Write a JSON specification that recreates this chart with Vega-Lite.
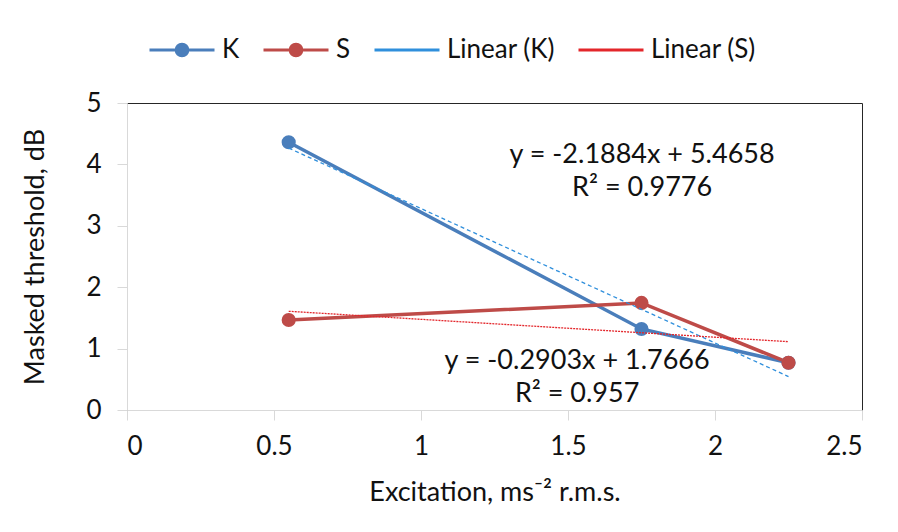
{
  "$schema": "https://vega.github.io/schema/vega-lite/v6.json",
  "autosize": {"type": "none"},
  "width": 735,
  "height": 307,
  "padding": {"left": 127, "top": 103, "right": 36, "bottom": 122},
  "background": "white",
  "config": {
    "font": "Lato",
    "view": {"stroke": "#262626", "strokeWidth": 1},
    "axis": {
      "grid": false,
      "domainColor": "#d9d9d9",
      "tickColor": "#d9d9d9",
      "tickSize": 10,
      "labelFontSize": 26,
      "labelColor": "#111",
      "titleFontWeight": "normal",
      "titleColor": "#111",
      "labelFont": "Lato",
      "titleFont": "Lato"
    }
  },
  "data": {
    "values": [
      {"series": "K", "excitation": 0.55, "threshold": 4.36},
      {"series": "K", "excitation": 1.75, "threshold": 1.32},
      {"series": "K", "excitation": 2.25, "threshold": 0.77},
      {"series": "S", "excitation": 0.55, "threshold": 1.465},
      {"series": "S", "excitation": 1.75, "threshold": 1.744},
      {"series": "S", "excitation": 2.25, "threshold": 0.77}
    ]
  },
  "encoding": {
    "x": {
      "field": "excitation", "type": "quantitative",
      "scale": {"domain": [0, 2.5], "nice": false, "zero": false},
      "axis": {"values": [0, 0.5, 1, 1.5, 2, 2.5], "format": "~g", "labelPadding": 13, "title": "Excitation, ms⁻² r.m.s.", "titleFontSize": 27, "titlePadding": 20, "orient": "bottom"}
    },
    "y": {
      "field": "threshold", "type": "quantitative",
      "scale": {"domain": [0, 5], "nice": false},
      "axis": {"values": [0, 1, 2, 3, 4, 5], "format": "~g", "labelPadding": 16, "title": "Masked threshold, dB", "titleFontSize": 27, "titlePadding": 36, "orient": "left"}
    }
  },
  "layer": [
    {
      "mark": {"type": "line", "strokeWidth": 3.5},
      "encoding": {
        "color": {
          "field": "series", "type": "nominal",
          "scale": {"domain": ["K", "S", "Linear (K)", "Linear (S)"], "range": ["#4a7ebb", "#be4b48", "#2f8fdc", "#e3262b"]},
          "legend": {
            "title": null,
            "orient": "none",
            "legendX": 21,
            "legendY": -87,
            "direction": "horizontal",
            "columns": 4,
            "labelFontSize": 26,
            "labelFont": "Lato",
            "labelColor": "#111",
            "labelOffset": 6,
            "columnPadding": 17,
            "symbolSize": 4225,
            "symbolType": "M-1,0H1",
            "symbolStrokeWidth": 3,
            "encode": {
              "symbols": {
                "update": {
                  "shape": [
                    {"test": "indexof(datum.label, 'Linear') === 0", "value": "M-1,0H1"},
                    {"value": "M-1,0H1M-0.18,0A0.18,0.18 0 1,0 0.18,0A0.18,0.18 0 1,0 -0.18,0Z"}
                  ],
                  "fill": [
                    {"test": "datum.label === 'K'", "value": "#4a7ebb"},
                    {"test": "datum.label === 'S'", "value": "#be4b48"},
                    {"value": "transparent"}
                  ],
                  "fillOpacity": {"value": 1}
                }
              }
            }
          }
        }
      }
    },
    {
      "mark": {"type": "point", "filled": true, "size": 200, "opacity": 1},
      "encoding": {
        "color": {"field": "series", "type": "nominal"}
      }
    },
    {
      "transform": [
        {"filter": "datum.series === 'K'"},
        {"regression": "threshold", "on": "excitation"}
      ],
      "mark": {"type": "line", "strokeWidth": 1.3, "strokeDash": [4, 3]},
      "encoding": {
        "color": {"datum": "Linear (K)"}
      }
    },
    {
      "transform": [
        {"filter": "datum.series === 'S'"},
        {"regression": "threshold", "on": "excitation"}
      ],
      "mark": {"type": "line", "strokeWidth": 1.3, "strokeDash": [2, 1]},
      "encoding": {
        "color": {"datum": "Linear (S)"}
      }
    },
    {
      "data": {
        "values": [
          {"note": "y = -2.1884x + 5.4658\nR² = 0.9776", "nx": 1.752, "ny": 4.161},
          {"note": "y = -0.2903x + 1.7666\nR² = 0.957", "nx": 1.531, "ny": 0.806}
        ]
      },
      "mark": {"type": "text", "fontSize": 27, "fontWeight": "normal", "font": "Lato", "color": "#111", "align": "center", "baseline": "middle", "lineHeight": 33, "lineBreak": "\n"},
      "encoding": {
        "x": {"field": "nx", "type": "quantitative"},
        "y": {"field": "ny", "type": "quantitative"},
        "text": {"field": "note", "type": "nominal"}
      }
    }
  ]
}
